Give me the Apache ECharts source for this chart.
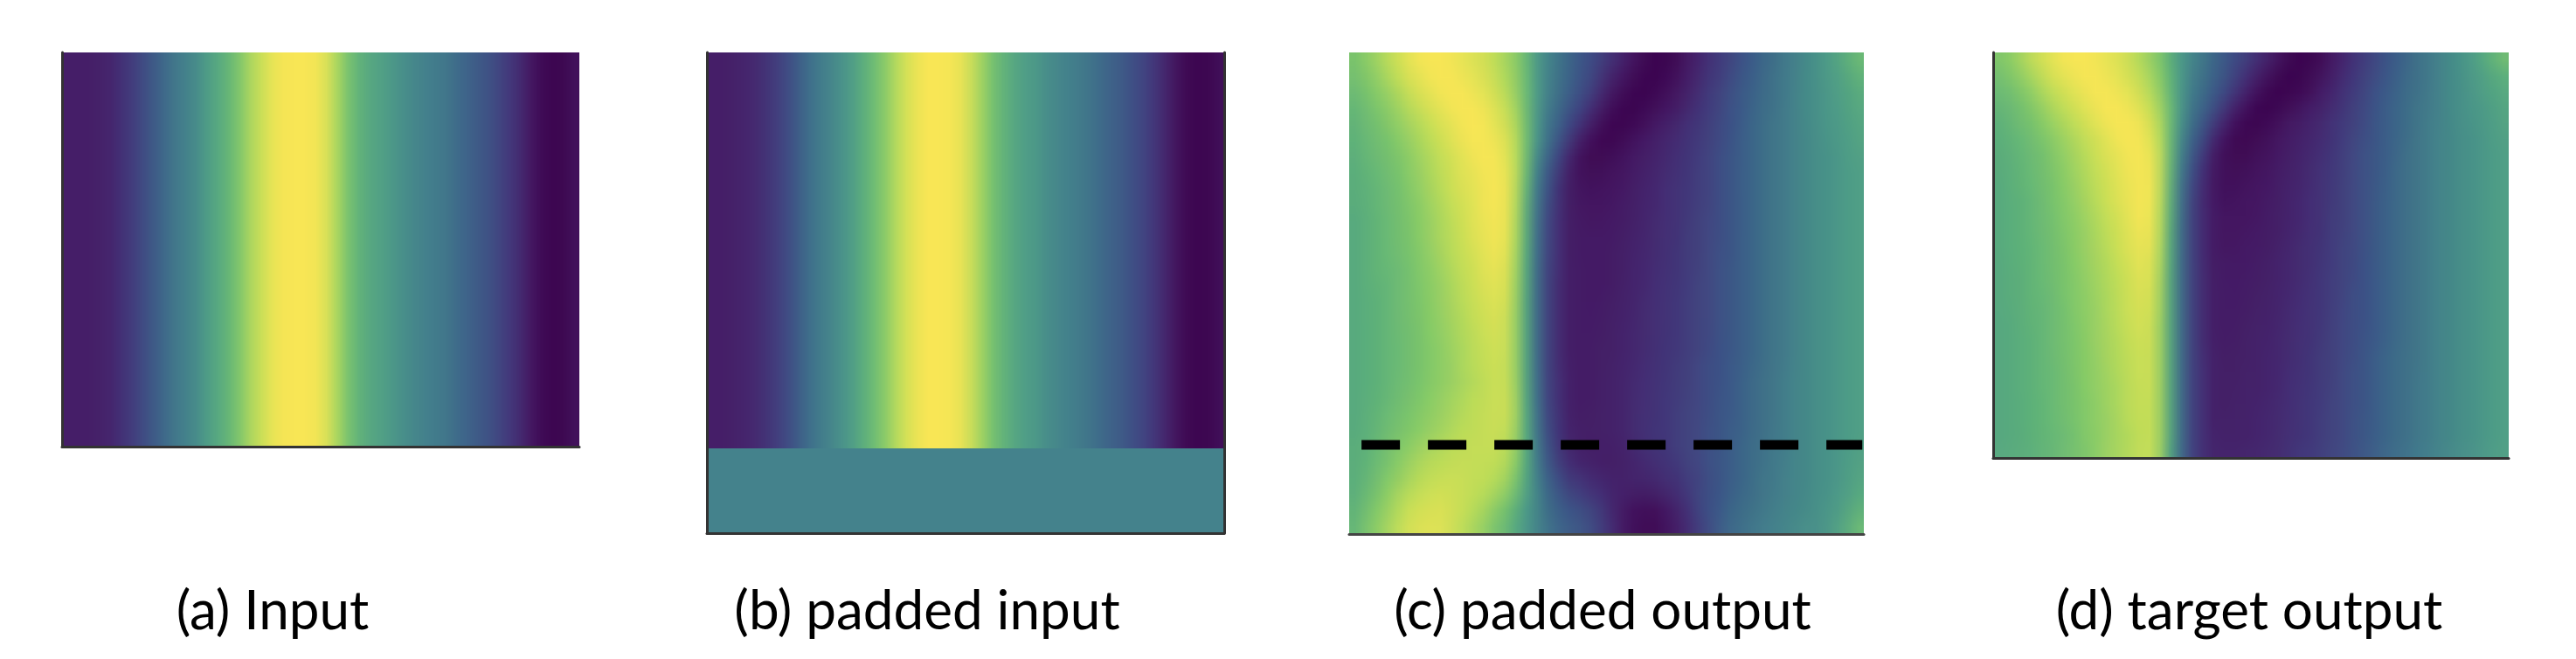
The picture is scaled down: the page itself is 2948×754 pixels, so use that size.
<!DOCTYPE html>
<html><head><meta charset="utf-8">
<style>html,body{margin:0;padding:0;background:#fff;overflow:hidden}
#page{position:relative;width:2948px;height:754px;overflow:hidden}
.clip{position:absolute;overflow:hidden}
.cells{position:absolute;left:0;top:0;transform-origin:0 0}
#overlay{position:absolute;left:0;top:0;width:2948px;height:754px}</style>
<script src="https://cdn.jsdelivr.net/npm/echarts@6/dist/echarts.min.js"></script>
</head><body><div id="page"><div id="overlay"></div></div>
<script>
const captions = ['(a) Input','(b) padded input','(c) padded output','(d) target output'];
const colormap = ['#3e0751','#461f68','#433a7c','#3f5587','#3f6e8b','#45848c','#4f9c88','#5fb17c','#86ca6a','#c4de59','#f8e655'];
const inputProfile = [10,10,10,11,12,16,20,25,31,37,43,48,52,59,65,71,77,85,90,96,99,100,100,100,96,88,79,72,67,63,60,56,52,50,47,45,41,37,33,30,26,21,16,9,3,0,0,4];
const paddedProfile = [10,10,11,12,14,17,21,26,32,39,45,50,54,60,67,73,79,86,92,97,100,100,100,98,93,86,78,72,66,62,59,55,52,49,47,44,40,36,33,29,25,20,15,8,2,0,0,3];
const padValue = 49;
const dashedLineX = [0.024, 0.997];
const dashedLineY = 0.185;
const paddedOutput = [
[77,80,84,88,92,96,99,100,100,99,97,95,93,90,86,82,74,62,52,45,38,33,29,24,19,14,9,4,1,0,2,7,12,16,20,24,28,32,36,40,44,48,51,55,59,64,69,74],
[76,79,82,86,90,94,97,99,100,100,98,96,94,91,87,83,75,62,51,44,37,32,27,21,15,10,5,2,0,1,4,9,13,18,21,25,29,33,37,41,45,48,52,55,59,62,66,71],
[74,77,80,83,87,91,94,97,99,100,100,98,96,93,89,84,75,62,50,43,36,30,25,18,11,6,2,0,1,3,7,11,15,20,23,27,31,35,38,42,45,49,52,55,58,61,64,68],
[72,75,78,81,84,88,91,94,97,99,100,100,98,95,91,86,76,62,49,41,33,27,20,13,6,2,0,1,3,6,9,13,17,21,24,28,32,35,39,42,46,49,52,55,58,60,63,66],
[71,74,76,79,82,85,88,91,94,97,99,100,100,97,93,88,77,61,47,38,29,22,14,7,2,0,1,4,7,10,13,16,19,22,25,29,32,36,39,43,46,49,52,55,57,60,62,65],
[70,73,75,77,80,83,86,89,92,95,98,100,100,98,95,90,78,60,45,34,24,15,8,2,0,2,5,8,10,13,15,18,20,23,26,29,33,36,40,43,46,49,52,54,57,59,61,64],
[69,72,74,76,78,81,84,87,90,93,96,98,100,100,97,91,78,57,41,29,17,8,3,2,3,5,8,10,12,14,16,19,21,24,27,30,33,37,40,43,46,49,52,54,56,58,60,63],
[68,71,73,75,77,80,83,86,89,92,95,97,99,100,98,92,77,53,36,24,13,6,4,4,6,7,9,11,13,15,17,19,22,24,27,30,34,37,40,43,46,49,52,54,56,58,60,62],
[68,70,72,74,76,79,82,85,88,91,94,96,98,100,99,92,75,50,32,21,11,7,6,6,7,8,10,12,14,16,18,20,22,24,27,30,34,37,40,43,46,49,52,54,56,58,60,62],
[68,70,72,74,76,78,81,84,87,90,93,95,98,100,99,91,73,48,30,19,11,8,7,7,8,9,11,13,14,16,18,20,22,24,27,30,33,37,40,43,46,49,52,54,56,58,60,62],
[67,69,71,73,75,78,80,83,86,89,92,95,97,99,99,90,72,46,28,18,11,9,8,8,9,10,11,13,15,16,18,20,23,25,27,30,33,37,40,43,46,49,52,54,56,58,60,62],
[67,69,71,73,75,77,80,83,86,88,91,94,97,99,99,90,72,45,27,18,11,9,9,9,9,10,12,13,15,17,18,21,23,25,27,30,34,37,40,43,46,49,52,54,56,58,60,62],
[67,69,71,73,75,77,79,82,85,88,90,93,96,98,98,89,71,45,27,18,11,9,9,9,10,11,12,14,15,17,19,21,23,25,28,30,34,37,40,43,46,49,52,54,56,58,60,62],
[67,69,71,73,74,76,79,81,84,87,90,92,95,97,97,88,70,44,26,18,11,10,9,9,10,11,13,14,16,17,19,21,23,25,28,31,34,37,40,43,46,49,52,54,56,58,60,62],
[67,69,71,72,74,76,78,81,83,86,89,91,94,96,96,87,70,44,26,17,11,10,9,9,10,11,13,14,16,18,19,21,24,26,28,31,34,37,40,43,46,49,52,54,56,58,60,62],
[67,69,70,72,74,76,78,80,83,85,88,90,93,95,95,87,69,44,26,17,11,10,9,10,10,12,13,15,16,18,20,22,24,26,28,31,34,37,40,43,46,49,52,54,56,58,60,62],
[67,69,70,72,74,76,78,80,82,85,87,90,92,94,94,86,69,44,25,17,11,10,10,10,11,12,13,15,17,18,20,22,24,26,28,31,34,37,40,43,46,49,52,54,56,58,60,62],
[67,68,70,72,74,75,77,80,82,84,87,89,91,93,93,86,68,44,25,17,11,10,10,10,11,12,14,15,17,18,20,22,24,26,28,31,34,37,40,43,46,49,52,54,56,58,60,62],
[67,68,70,72,73,75,77,79,81,84,86,88,90,92,93,86,68,44,25,17,11,10,10,11,11,12,14,15,17,19,20,22,24,26,29,31,34,37,40,43,46,49,52,54,56,58,60,62],
[67,68,70,72,73,75,77,79,81,83,86,88,90,92,92,86,68,44,25,17,11,10,10,11,11,13,14,16,17,19,21,22,25,27,29,32,34,37,40,43,46,49,52,54,56,58,60,62],
[67,68,70,72,74,75,77,79,81,83,85,87,89,91,92,86,68,45,26,18,12,10,10,11,12,13,15,16,18,19,21,23,25,27,29,32,35,38,41,44,47,50,52,54,56,58,60,62],
[67,69,70,72,74,76,78,80,82,84,86,88,89,91,92,87,69,45,26,18,12,10,10,11,12,13,15,16,18,20,21,23,25,27,30,32,35,38,41,44,47,50,52,54,56,58,60,62],
[67,69,71,73,75,77,79,81,83,85,87,89,90,91,92,88,70,46,27,19,12,10,10,11,12,13,15,17,18,20,22,24,25,27,30,32,35,38,41,44,47,50,52,54,56,58,60,62],
[67,69,71,74,76,78,80,82,84,86,88,89,90,91,91,87,70,47,28,20,13,11,11,11,12,13,15,17,19,20,22,24,26,28,30,33,35,38,41,44,47,50,52,54,56,58,60,62],
[68,70,72,75,78,80,82,84,86,88,89,90,90,91,90,86,70,48,30,21,14,11,11,11,12,13,15,17,19,20,22,24,26,28,30,33,36,39,42,45,47,50,52,54,56,58,60,62],
[68,70,73,76,79,82,85,87,88,89,90,90,90,90,89,84,70,50,33,23,15,12,11,10,10,11,13,15,17,19,21,24,26,28,31,33,36,39,42,45,47,50,52,54,56,58,60,63],
[68,71,74,78,81,84,87,89,90,91,91,90,90,89,87,81,68,51,36,27,20,17,15,13,12,12,13,14,15,17,19,22,24,27,31,34,37,40,43,45,48,50,52,54,56,58,60,64],
[69,72,76,80,84,87,89,91,92,92,91,90,89,87,84,78,66,52,39,31,24,21,18,16,13,12,12,12,13,15,17,20,24,27,30,34,37,40,43,46,48,50,52,54,56,58,61,65],
[70,74,78,82,86,90,92,93,94,93,91,89,87,83,79,72,62,52,42,35,30,27,24,20,15,10,7,6,6,9,13,18,24,29,32,36,39,42,44,47,49,51,53,55,57,60,63,69],
[71,76,80,84,88,92,94,95,95,93,90,87,84,79,75,68,60,52,44,38,34,31,28,23,17,10,5,3,2,5,9,14,20,26,32,37,40,43,46,48,50,52,54,55,57,61,66,73]
];
const targetOutput = [
[79,81,85,89,93,96,99,100,100,99,97,95,92,88,84,79,71,60,52,46,40,34,29,24,19,14,9,4,1,0,2,7,12,17,21,25,29,33,37,41,45,49,52,56,60,65,71,76],
[76,79,82,86,90,94,97,99,100,100,98,96,93,90,86,81,72,60,50,44,37,31,26,20,14,9,4,1,0,2,5,9,14,19,22,26,30,34,38,41,45,49,52,55,59,62,66,70],
[74,76,79,82,86,90,93,96,98,100,100,98,96,93,88,83,73,60,49,42,35,29,23,16,9,4,1,0,1,4,8,12,16,20,24,28,32,35,39,42,46,49,52,55,58,61,64,67],
[72,74,76,79,83,87,90,93,96,98,100,100,98,95,91,85,75,60,47,39,31,24,16,9,3,0,0,2,5,8,11,14,18,22,25,29,33,36,40,43,46,49,52,55,57,60,62,65],
[70,72,75,77,80,84,87,90,93,96,99,100,100,98,94,88,76,59,44,35,26,17,9,3,0,1,4,7,9,12,14,17,20,23,26,30,33,37,40,43,47,49,52,55,57,59,61,64],
[69,71,73,75,78,81,84,87,90,93,96,99,100,100,96,90,76,56,40,30,19,10,3,1,2,4,7,9,11,13,15,18,21,24,27,30,34,37,40,44,47,50,52,54,56,58,60,63],
[68,70,72,74,76,79,82,85,88,91,94,97,99,100,98,92,76,53,36,25,13,5,2,2,4,6,8,10,12,14,16,19,22,25,28,31,34,37,41,44,47,50,52,54,56,58,60,62],
[68,69,71,73,75,78,81,84,87,90,93,96,98,100,99,93,75,50,32,20,10,5,4,4,6,7,9,11,13,15,17,20,22,25,28,31,34,38,41,44,47,50,52,54,56,58,60,62],
[67,69,71,73,75,77,80,83,86,89,92,95,97,99,100,93,74,48,29,18,9,6,5,6,7,8,10,12,13,15,18,20,23,25,28,31,34,38,41,44,47,50,52,54,56,58,60,62],
[67,69,70,72,74,77,79,82,85,88,91,94,97,99,100,93,73,46,27,17,9,6,6,7,8,9,10,12,14,16,18,20,23,25,28,31,35,38,41,44,47,50,52,54,56,58,60,62],
[67,68,70,72,74,76,79,81,84,87,90,93,96,99,100,92,72,45,26,17,10,7,7,7,8,9,11,12,14,16,18,21,23,25,28,31,35,38,41,44,47,50,52,54,56,58,60,62],
[67,68,70,72,74,76,78,81,83,86,89,92,95,98,99,92,71,44,25,17,10,8,8,8,9,10,11,13,14,16,18,21,23,25,28,31,35,38,41,44,47,50,52,54,56,58,60,62],
[67,68,70,71,73,75,78,80,83,85,88,91,94,97,98,91,70,44,25,17,10,8,8,9,9,10,11,13,15,17,19,21,24,26,28,31,35,38,41,44,47,50,52,54,56,58,60,62],
[66,68,70,71,73,75,77,80,82,85,87,90,93,96,97,90,70,44,25,17,10,9,9,9,10,11,12,14,15,17,19,21,24,26,29,31,35,38,41,44,47,50,52,54,56,58,60,62],
[66,68,69,71,73,75,77,79,82,84,87,89,92,95,96,89,69,44,25,17,11,9,9,10,10,11,12,14,15,17,20,22,24,26,29,32,35,38,41,44,47,50,52,54,56,58,60,62],
[66,68,69,71,73,74,77,79,81,84,86,89,91,94,95,88,69,44,25,17,11,10,10,10,11,11,13,14,16,17,20,22,24,27,29,32,35,38,41,44,47,50,52,54,56,58,60,62],
[66,68,69,71,72,74,76,79,81,83,86,88,91,93,94,88,68,44,25,17,11,10,10,10,11,12,13,15,16,18,20,22,25,27,29,32,35,38,41,44,47,50,52,54,56,58,60,62],
[66,67,69,71,72,74,76,78,81,83,85,88,90,93,93,87,68,44,25,17,11,10,10,11,11,12,13,15,16,18,20,22,25,27,29,32,35,38,41,44,47,50,52,54,56,58,60,62],
[66,67,69,70,72,74,76,78,80,83,85,87,90,92,93,87,68,44,25,17,11,10,10,11,12,12,14,15,17,18,20,23,25,27,30,32,35,38,41,44,47,50,52,54,56,58,60,62],
[66,67,69,70,72,74,76,78,80,82,85,87,89,91,92,87,68,44,25,17,12,10,11,11,12,13,14,15,17,19,21,23,25,27,30,33,36,39,42,44,47,50,52,54,56,58,60,62],
[66,67,69,70,72,73,75,78,80,82,84,87,89,91,92,87,68,44,25,18,12,11,11,11,12,13,14,16,17,19,21,23,25,28,30,33,36,39,42,44,47,50,52,54,56,58,60,62],
[66,67,69,70,72,73,75,77,80,82,84,86,88,90,92,87,68,44,25,18,12,11,11,12,12,13,14,16,18,19,21,23,26,28,30,33,36,39,42,45,47,50,52,54,56,58,60,62],
[66,67,68,70,71,73,75,77,79,81,84,86,88,90,91,87,68,44,25,18,12,11,11,12,13,13,15,16,18,20,21,24,26,28,30,33,36,39,42,45,47,50,52,54,56,58,60,62],
[66,67,68,70,71,73,75,77,79,81,83,85,88,90,91,87,68,44,25,18,12,11,12,12,13,14,15,16,18,20,22,24,26,28,31,33,36,39,42,45,47,50,52,54,56,58,60,62],
[66,67,68,70,71,73,74,76,79,81,83,85,87,89,91,87,68,44,25,18,13,12,12,12,13,14,15,17,18,20,22,24,26,28,31,34,37,39,42,45,47,50,52,54,56,58,60,62],
[66,67,68,69,71,72,74,76,78,80,83,85,87,89,91,87,68,44,26,18,13,12,12,13,13,14,15,17,19,20,22,24,26,28,31,34,37,40,42,45,47,50,52,54,56,58,60,62]
];

// each block is one heatmap; its cells are upscaled smoothly by the browser, as in the reference
const blocks = [
  {table: [inputProfile],  left: 71,   top: 60,  width: 592, height: 451},
  {table: [paddedProfile], left: 809,  top: 60,  width: 592, height: 453},
  {table: [paddedProfile.map(() => padValue)], left: 809, top: 513, width: 592, height: 97},
  {table: paddedOutput,    left: 1544, top: 60,  width: 589, height: 551},
  {table: targetOutput,    left: 2281, top: 60,  width: 590, height: 464}
];
const page = document.getElementById('page');
blocks.forEach(b => {
  const clip = document.createElement('div');
  clip.className = 'clip';
  clip.style.cssText = `left:${b.left}px;top:${b.top}px;width:${b.width}px;height:${b.height}px`;
  const cols = b.table[0].length, rows = b.table.length;
  const host = document.createElement('div');
  host.className = 'cells';
  host.style.cssText = `width:${cols}px;height:${rows}px;transform:scale(${b.width / cols},${b.height / rows})`;
  clip.appendChild(host);
  page.insertBefore(clip, document.getElementById('overlay'));
  const cells = [];
  b.table.forEach((row, y) => row.forEach((v, x) => cells.push([x, y, v])));
  echarts.init(host, null, {renderer: 'canvas', devicePixelRatio: 1}).setOption({
    animation: false,
    grid: {left: 0, right: 0, top: 0, bottom: 0},
    xAxis: {type: 'category', data: b.table[0].map((_, k) => k), show: false},
    yAxis: {type: 'category', inverse: true, data: b.table.map((_, k) => k), show: false},
    visualMap: {show: false, min: 0, max: 100, inRange: {color: colormap}},
    series: [{type: 'heatmap', data: cells, silent: true, progressive: 0, animation: false}]
  });
});

// frames, dashed line and captions
const panels = [
  {left: 71,   width: 592, top: 60, height: 451, capX: 307,  line: '#333333', leftLine: true,  rightLine: false},
  {left: 809,  width: 592, top: 60, height: 550, capX: 1056, line: '#333333', leftLine: true,  rightLine: true},
  {left: 1544, width: 589, top: 60, height: 551, capX: 1829, line: '#444444', leftLine: false, rightLine: false},
  {left: 2281, width: 590, top: 60, height: 464, capX: 2569, line: '#333333', leftLine: true,  rightLine: false}
];
const grid = [], xAxis = [], yAxis = [], title = [];
const hide = {axisTick: {show: false}, axisLabel: {show: false}, splitLine: {show: false}};
panels.forEach((p, i) => {
  grid.push({left: p.left, top: p.top, width: p.width, height: p.height});
  xAxis.push({type: 'value', gridIndex: i, min: 0, max: 1, position: 'bottom', ...hide,
    axisLine: {show: true, onZero: false, lineStyle: {color: p.line, width: 3}}});
  yAxis.push({type: 'value', gridIndex: i, min: 0, max: 1, position: 'left', ...hide,
    axisLine: {show: p.leftLine, onZero: false, lineStyle: {color: p.line, width: 3}}});
  title.push({text: captions[i], left: p.capX, top: 664, textAlign: 'center',
    textStyle: {fontFamily: 'Lato', fontWeight: 'normal', fontSize: 62, color: '#000'}});
});
yAxis.push({type: 'value', gridIndex: 1, min: 0, max: 1, position: 'right', ...hide,
  axisLine: {show: true, onZero: false, lineStyle: {color: '#333333', width: 3}}});
const series = [{type: 'line', xAxisIndex: 2, yAxisIndex: 2, symbol: 'none', silent: true, animation: false,
  data: dashedLineX.map(x => [x, dashedLineY]),
  lineStyle: {color: '#000', width: 11, type: [44, 32], cap: 'butt'}}];
echarts.init(document.getElementById('overlay'), null, {renderer: 'canvas'}).setOption({
  backgroundColor: 'transparent', animation: false, title, grid, xAxis, yAxis, series
});
</script></body></html>
